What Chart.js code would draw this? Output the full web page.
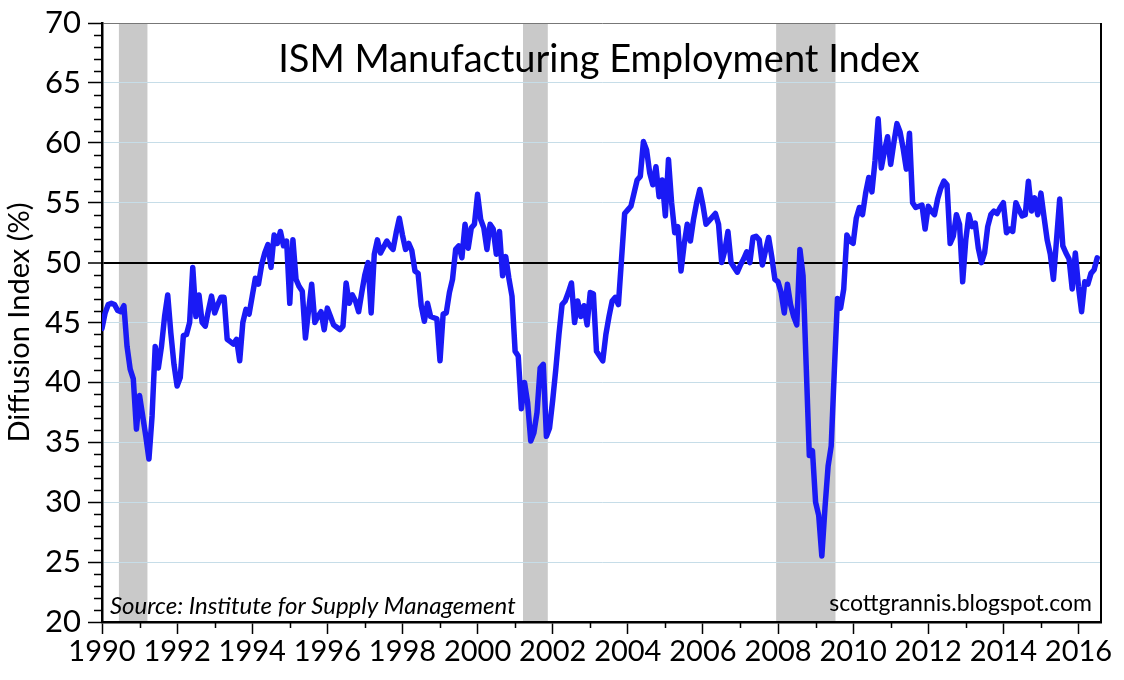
<!DOCTYPE html>
<html>
<head>
<meta charset="utf-8">
<title>ISM Manufacturing Employment Index</title>
<script src="https://cdn.jsdelivr.net/npm/chart.js@4.4.1/dist/chart.umd.min.js"></script>
<style>
  html, body { margin: 0; padding: 0; background: #fff; }
  #wrap { width: 1124px; height: 680px; }
</style>
</head>
<body>
<div id="wrap"><canvas id="ismChart" width="1124" height="680"></canvas></div>
<script>
// monthly readings, Jan 1990 .. Jul 2016
const startYear = 1990;
const employment = [
  44.5, 45.8, 46.5, 46.6, 46.5, 46.0, 45.9, 46.4, 43.0, 41.1, 40.3, 36.1, // 1990
  38.9, 37.2, 35.5, 33.6, 37.2, 43.0, 41.2, 43.0, 45.5, 47.3, 44.1, 41.5, // 1991
  39.7, 40.4, 43.9, 44.0, 45.0, 49.6, 45.5, 47.3, 45.0, 44.7, 46.0, 47.2, // 1992
  45.8, 46.5, 47.1, 47.1, 43.6, 43.4, 43.2, 43.6, 41.8, 45.0, 46.1, 45.7, // 1993
  47.2, 48.7, 48.2, 49.8, 50.8, 51.5, 49.6, 52.3, 51.6, 52.6, 51.4, 51.8, // 1994
  46.6, 51.9, 48.6, 48.0, 47.6, 43.7, 46.0, 48.2, 45.0, 45.5, 45.9, 44.4, // 1995
  46.2, 45.5, 44.8, 44.6, 44.4, 44.7, 48.3, 46.6, 47.3, 46.8, 45.9, 47.5, // 1996
  49.0, 50.0, 45.8, 50.7, 51.9, 50.8, 51.3, 51.8, 51.4, 51.1, 52.5, 53.7, // 1997
  52.3, 51.1, 51.6, 51.0, 49.3, 49.1, 46.4, 45.1, 46.6, 45.5, 45.4, 45.3, // 1998
  41.8, 45.7, 45.8, 47.5, 48.6, 51.1, 51.4, 50.4, 53.2, 51.2, 52.9, 53.2, // 1999
  55.7, 53.6, 52.9, 51.1, 53.2, 52.8, 50.7, 52.6, 48.9, 50.5, 48.7, 47.2, // 2000
  42.6, 42.2, 37.8, 40.0, 38.3, 35.1, 35.8, 37.5, 41.2, 41.5, 35.5, 36.2, // 2001
  38.5, 41.1, 44.0, 46.5, 46.8, 47.5, 48.3, 45.0, 46.8, 45.5, 46.4, 44.8, // 2002
  47.5, 47.4, 42.6, 42.2, 41.8, 44.0, 45.5, 46.8, 47.1, 46.5, 50.3, 54.1, // 2003
  54.4, 54.7, 55.8, 56.9, 57.2, 60.1, 59.4, 57.5, 56.5, 58.0, 55.5, 56.9, // 2004
  53.9, 58.6, 55.0, 52.5, 53.0, 49.3, 51.5, 53.2, 51.8, 53.6, 55.0, 56.1, // 2005
  54.8, 53.2, 53.5, 53.8, 54.1, 53.2, 50.0, 51.0, 52.6, 50.0, 49.6, 49.2, // 2006
  49.8, 50.3, 50.9, 50.0, 52.1, 52.2, 51.9, 49.8, 51.0, 52.1, 50.5, 48.6, // 2007
  48.4, 47.5, 45.8, 48.2, 46.5, 45.5, 44.8, 51.1, 48.9, 41.4, 33.9, 34.3, // 2008
  30.0, 28.9, 25.5, 29.5, 33.0, 34.7, 41.0, 47.0, 46.2, 47.8, 52.3, 51.8, // 2009
  51.6, 53.7, 54.6, 54.0, 55.8, 57.1, 55.9, 58.5, 62.0, 57.9, 59.3, 60.5, // 2010
  58.2, 60.0, 61.6, 60.9, 59.5, 57.8, 60.8, 55.0, 54.6, 54.7, 54.8, 52.8, // 2011
  54.7, 54.3, 54.0, 55.3, 56.2, 56.8, 56.5, 51.6, 52.2, 54.0, 53.2, 48.4, // 2012
  51.9, 54.0, 53.0, 53.3, 51.2, 50.0, 50.8, 53.0, 54.0, 54.3, 54.1, 54.6, // 2013
  55.0, 52.5, 52.8, 52.6, 55.0, 54.4, 53.9, 54.0, 56.8, 54.3, 55.4, 54.0, // 2014
  55.8, 53.8, 51.9, 50.7, 48.6, 51.9, 55.3, 51.4, 50.8, 50.3, 47.8, 50.8, // 2015
  48.0, 45.9, 48.4, 48.2, 49.1, 49.4, 50.4                                // 2016
];

// recession bands (start, end) in decimal years
const recessions = [[1990.45, 1991.21], [2001.21, 2001.87], [2007.95, 2009.53]];

const yearTicks = [];
for (let yr = 1990; yr <= 2016; yr++) yearTicks.push(yr);
const labelledYears = [1990, 1992, 1994, 1996, 1998, 2000, 2002, 2004, 2006, 2008, 2010, 2012, 2014, 2016];

const titleText = 'ISM Manufacturing Employment Index';
const sourceText = 'Source: Institute for Supply Management';
const blogText = 'scottgrannis.blogspot.com';

const points = employment.map((v, i) => ({ x: startYear + i / 12, y: v }));

const FONT = 'Lato, "Open Sans", sans-serif';

// grey recession bars behind everything
const recessionShading = {
  id: 'recessionShading',
  beforeDraw(chart) {
    const { ctx, chartArea: ca, scales: { x } } = chart;
    ctx.save();
    ctx.fillStyle = '#c9c9c9';
    recessions.forEach(([a, b]) => {
      const x1 = x.getPixelForValue(a);
      const x2 = x.getPixelForValue(b);
      ctx.fillRect(x1, ca.top, x2 - x1, ca.bottom - ca.top);
    });
    ctx.restore();
  }
};

// minor ticks, right frame and the texts inside the plot
const decorations = {
  id: 'decorations',
  afterDraw(chart) {
    const { ctx, chartArea: ca, scales: { x, y } } = chart;
    ctx.save();
    ctx.strokeStyle = '#000';
    ctx.lineWidth = 1.5;
    ctx.beginPath();
    for (let v = 21; v < 70; v++) {
      if (v % 5 === 0) continue;
      const py = Math.round(y.getPixelForValue(v)) + 0.5;
      ctx.moveTo(ca.left - 8, py);
      ctx.lineTo(ca.left, py);
    }
    yearTicks.forEach(yr => {
      if (labelledYears.includes(yr)) return;
      const px = Math.round(x.getPixelForValue(yr)) + 0.5;
      ctx.moveTo(px, ca.bottom);
      ctx.lineTo(px, ca.bottom + 6);
    });
    ctx.stroke();

    ctx.lineWidth = 2;
    ctx.beginPath();
    ctx.moveTo(ca.right, ca.top);
    ctx.lineTo(ca.right, ca.bottom);
    ctx.stroke();

    ctx.fillStyle = '#000';
    ctx.textBaseline = 'alphabetic';
    ctx.textAlign = 'center';
    ctx.font = '38px ' + FONT;
    ctx.fillText(titleText, 599, 72);

    ctx.textAlign = 'left';
    ctx.font = 'italic 24px ' + FONT;
    ctx.fillText(sourceText, 110, 614);

    ctx.textAlign = 'right';
    ctx.font = '23px ' + FONT;
    ctx.fillText(blogText, 1092, 611);
    ctx.restore();
  }
};

const ctx = document.getElementById('ismChart').getContext('2d');

const chart = new Chart(ctx, {
  type: 'line',
  data: {
    datasets: [{
      label: 'ISM Manufacturing Employment',
      data: points,
      borderColor: '#1a1af5',
      borderWidth: 5.5,
      borderJoinStyle: 'round',
      borderCapStyle: 'round',
      pointRadius: 0,
      tension: 0,
      fill: false
    }]
  },
  options: {
    responsive: false,
    animation: false,
    devicePixelRatio: 1,
    layout: { padding: { top: 23, right: 23, bottom: 0, left: 0 } },
    plugins: {
      legend: { display: false },
      tooltip: { enabled: false }
    },
    scales: {
      x: {
        type: 'linear',
        min: 1990,
        max: 2016.6,
        afterBuildTicks: scale => {
          scale.ticks = yearTicks.map(v => ({ value: v }));
        },
        afterFit: scale => {
          scale.height = 58;
          scale.paddingLeft = 0;
          scale.paddingRight = 0;
        },
        ticks: {
          autoSkip: false,
          maxRotation: 0,
          padding: 0,
          color: '#000',
          font: { family: FONT, size: 29 },
          callback: v => labelledYears.includes(v) ? String(v) : ''
        },
        grid: {
          drawOnChartArea: false,
          tickLength: 12,
          tickWidth: 1.5,
          tickColor: c => (c.tick && labelledYears.includes(c.tick.value)) ? '#000' : 'rgba(0,0,0,0)'
        },
        border: { color: '#000', width: 2.5 }
      },
      y: {
        min: 20,
        max: 70,
        afterFit: scale => {
          scale.width = 102;
          scale.paddingTop = 0;
          scale.paddingBottom = 0;
        },
        ticks: {
          stepSize: 5,
          padding: 7,
          color: '#000',
          font: { family: FONT, size: 31 }
        },
        grid: {
          color: c => c.tick.value === 50 ? '#000' : (c.tick.value === 70 ? '#777' : '#c6dde8'),
          lineWidth: c => c.tick.value === 50 ? 2 : 1,
          tickLength: 14,
          tickWidth: 1.5,
          tickColor: '#000'
        },
        border: { color: '#000', width: 2.5 },
        title: {
          display: true,
          text: 'Diffusion Index (%)',
          color: '#000',
          font: { family: FONT, size: 29 },
          padding: { top: 2, bottom: 0 }
        }
      }
    }
  },
  plugins: [recessionShading, decorations]
});
</script>
</body>
</html>
